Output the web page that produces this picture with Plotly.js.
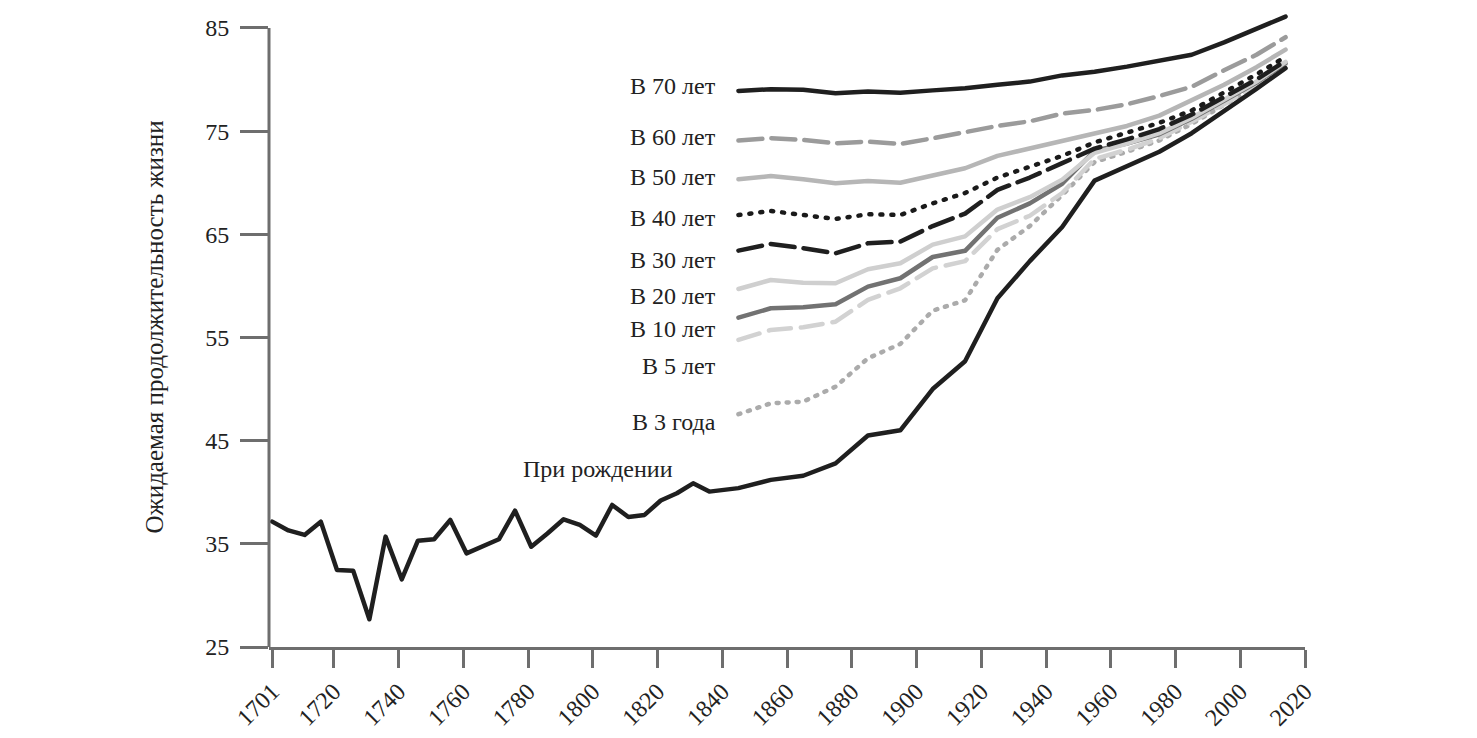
<!DOCTYPE html>
<html>
<head>
<meta charset="utf-8">
<script src="https://cdn.plot.ly/plotly-3.0.1.min.js"></script>
<style>
  html, body { margin: 0; padding: 0; background: #fff; }
  #chart { width: 1477px; height: 738px; }
  #chart path.js-line { stroke-linecap: round; stroke-linejoin: round; }
</style>
</head>
<body>
<div id="chart"></div>
<script>
// ---- data ----
const birthYears = [1701,1706,1711,1716,1721,1726,1731,1736,1741,1746,1751,1756,1761,1766,1771,1776,1781,1786,1791,1796,1801,1806,1811,1816,1821,1826,1831,1836,
  1845,1855,1865,1875,1885,1895,1905,1915,1925,1935,1945,1955,1965,1975,1985,1995,2005,2014];
const birthValues = [37.15,36.3,35.86,37.15,32.47,32.4,27.69,35.7,31.56,35.3,35.44,37.31,34.08,34.8,35.44,38.21,34.72,36.0,37.38,36.83,35.8,38.77,37.6,37.8,39.2,39.9,40.86,40.06,
  40.4,41.2,41.6,42.8,45.5,46.0,50.0,52.7,58.8,62.4,65.7,70.2,71.6,73.0,74.8,76.9,79.1,81.1];

const ageYears = [1845,1855,1865,1875,1885,1895,1905,1915,1925,1935,1945,1955,1965,1975,1985,1995,2005,2014];
const at70 = [78.9,79.06,79.0,78.67,78.83,78.73,78.95,79.16,79.5,79.8,80.4,80.75,81.25,81.8,82.4,83.6,84.9,86.1];
const at60 = [74.08,74.31,74.14,73.82,73.98,73.76,74.3,74.9,75.5,75.95,76.7,77.05,77.6,78.4,79.3,80.9,82.4,84.1];
const at50 = [70.33,70.65,70.33,69.94,70.17,70.0,70.7,71.4,72.6,73.3,74.1,74.8,75.5,76.5,78.0,79.5,81.2,82.9];
const at40 = [66.87,67.26,66.87,66.49,66.94,66.87,68.0,69.0,70.5,71.5,72.6,73.9,74.8,75.8,77.0,78.7,80.5,82.2];
const at30 = [63.42,64.06,63.65,63.16,64.13,64.29,65.8,67.0,69.3,70.5,71.9,73.3,74.2,75.2,76.6,78.3,80.0,81.8];
const at20 = [59.7,60.57,60.31,60.25,61.61,62.19,64.0,64.8,67.4,68.6,70.3,72.9,73.8,74.8,76.3,78.0,79.8,81.7];
const at10 = [56.92,57.83,57.93,58.22,59.93,60.74,62.8,63.4,66.6,68.0,69.9,73.1,73.8,74.7,76.2,77.9,79.7,81.6];
const at5  = [54.76,55.73,55.99,56.53,58.64,59.77,61.7,62.4,65.5,66.8,69.0,72.3,73.2,74.3,75.9,77.6,79.5,81.5];
const at3  = [47.56,48.62,48.78,50.23,52.98,54.37,57.6,58.6,63.5,65.8,68.8,72.0,73.0,74.1,75.7,77.5,79.4,81.4];

const seriesLabels = ["В 70 лет","В 60 лет","В 50 лет","В 40 лет","В 30 лет","В 20 лет","В 10 лет","В 5 лет","В 3 года"];
const labelValues = [79.38,74.43,70.56,66.58,62.51,59.02,55.82,52.24,46.81];
const birthLabel = "При рождении";
const xTickVals = [1701,1720,1740,1760,1780,1800,1820,1840,1860,1880,1900,1920,1940,1960,1980,2000,2020];
const yTickVals = [25,35,45,55,65,75,85];
const yTitle = "Ожидаемая продолжительность жизни";

// ---- styles ----
const FONT = "Liberation Serif, 'Times New Roman', serif";
const AXIS = "#6e6e6e";
const styles = [
  {color:"#1f1f1f", dash:"solid"},
  {color:"#9b9b9b", dash:"24px,9px"},
  {color:"#b6b6b6", dash:"solid"},
  {color:"#1a1a1a", dash:"2px,9px"},
  {color:"#1f1f1f", dash:"24px,9px"},
  {color:"#cfcfcf", dash:"solid"},
  {color:"#727272", dash:"solid"},
  {color:"#d2d2d2", dash:"22px,10px"},
  {color:"#ababab", dash:"2px,8px"}
];
const ageSeries = [at70,at60,at50,at40,at30,at20,at10,at5,at3];

const traces = [];
for (let i = ageSeries.length - 1; i >= 0; i--) {
  traces.push({
    x: ageYears, y: ageSeries[i], type: "scatter", mode: "lines", name: seriesLabels[i],
    line: {color: styles[i].color, width: 4.5, dash: styles[i].dash},
    hoverinfo: "skip"
  });
}
traces.push({
  x: birthYears, y: birthValues, type: "scatter", mode: "lines", name: birthLabel,
  line: {color: "#1f1f1f", width: 4.5}, hoverinfo: "skip"
});

const annotations = seriesLabels.map((t, i) => ({
  x: 1838.7, y: labelValues[i], xref: "x", yref: "y", text: t, showarrow: false,
  xanchor: "right", yanchor: "middle", font: {family: FONT, size: 24, color: "#222"}
}));
annotations.push({
  x: 1801.6, y: 42.25, xref: "x", yref: "y", text: birthLabel, showarrow: false,
  xanchor: "center", yanchor: "middle", font: {family: FONT, size: 24, color: "#222"}
});

const Y_MIN = 25, Y_MAX = 85, Y_TOP = 87.03;

const layout = {
  width: 1477, height: 738,
  margin: {l: 269, r: 172, t: 7, b: 91},
  paper_bgcolor: "#fff", plot_bgcolor: "#fff",
  showlegend: false,
  font: {family: FONT, size: 24, color: "#222"},
  xaxis: {
    range: [1700, 2020], tickvals: xTickVals, ticktext: xTickVals.map(String),
    tickangle: -45, ticks: "outside", ticklen: 18, tickwidth: 3, tickcolor: AXIS,
    showline: true, linewidth: 3, linecolor: AXIS, showgrid: false, zeroline: false,
    tickfont: {family: FONT, size: 24, color: "#222"}, fixedrange: true
  },
  yaxis: {
    range: [Y_MIN, Y_TOP], tickvals: yTickVals, ticks: "outside", ticklen: 28, tickwidth: 3,
    tickcolor: AXIS, showline: false, showgrid: false, zeroline: false, ticklabelstandoff: 6,
    tickfont: {family: FONT, size: 24, color: "#222"},
    title: {text: yTitle, font: {family: FONT, size: 25, color: "#222"}, standoff: 34},
    fixedrange: true
  },
  shapes: [{
    type: "line", xref: "paper", yref: "y", x0: 0, x1: 0, y0: Y_MIN, y1: Y_MAX,
    line: {color: AXIS, width: 3}, layer: "above"
  }],
  annotations: annotations
};

Plotly.newPlot("chart", traces, layout, {staticPlot: true, displayModeBar: false});
</script>
</body>
</html>
